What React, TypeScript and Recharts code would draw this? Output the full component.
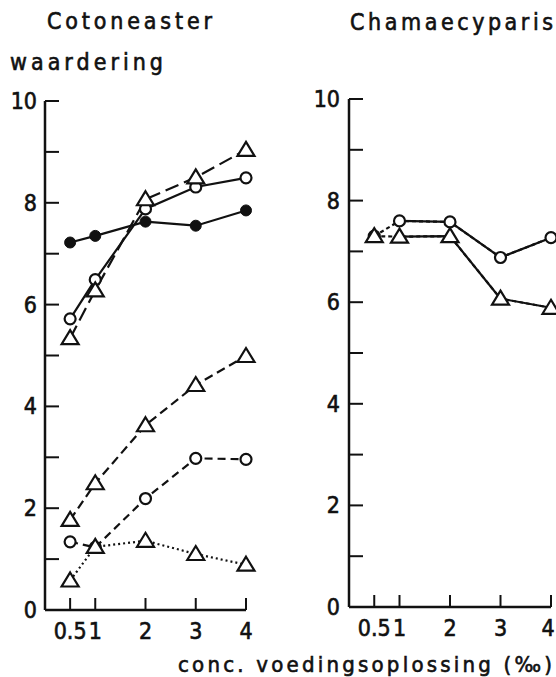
import { LineChart, Line, XAxis, YAxis } from 'recharts';

// Concentration of the nutrient solution (per mille)
const concentrations = [0.5, 1, 2, 3, 4];
const xTicks = [0.5, 1, 2, 3, 4];
const yTicks = [0, 1, 2, 3, 4, 5, 6, 7, 8, 9, 10];

// Cotoneaster ratings
const cotFilled = [7.22, 7.35, 7.63, 7.55, 7.85];
const cotCircleHigh = [5.72, 6.49, 7.88, 8.31, 8.49];
const cotTriangleHigh = [5.34, 6.28, 8.07, 8.5, 9.04];
const cotTriangleMid = [1.77, 2.49, 3.63, 4.42, 4.99];
const cotCircleLow = [1.34, 1.23, 2.19, 2.98, 2.96];
const cotTriangleLow = [0.58, 1.24, 1.36, 1.1, 0.89];

// Chamaecyparis ratings
const chaCircle = [7.3, 7.6, 7.58, 6.88, 7.27];
const chaTriangle = [7.3, 7.29, 7.3, 6.07, 5.89];

const FONT = "'Liberation Sans Narrow', 'DejaVu Sans Condensed', 'DejaVu Sans', sans-serif";
const INK = '#111';

const cotData = concentrations.map((x, i) => ({
  x,
  filled: cotFilled[i],
  circleHigh: cotCircleHigh[i],
  triangleHigh: cotTriangleHigh[i],
  triangleMid: cotTriangleMid[i],
  circleLow: cotCircleLow[i],
  triangleLow: cotTriangleLow[i],
}));

// first segment (0.5 -> 1) is dashed, the rest solid
const chaData = concentrations.map((x, i) => ({
  x,
  circle: chaCircle[i],
  triangle: chaTriangle[i],
  circleSolid: i === 0 ? null : chaCircle[i],
  triangleSolid: i === 0 ? null : chaTriangle[i],
}));

const renderTriangle = (props: any) => {
  const { cx, cy, index } = props;
  if (cx == null || cy == null) return <g key={`t-${index}`} />;
  return (
    <path
      key={`t-${index}`}
      d={`M${cx},${cy - 8} L${cx + 8.5},${cy + 6} L${cx - 8.5},${cy + 6} Z`}
      fill="#fff"
      stroke={INK}
      strokeWidth={2.2}
      strokeLinejoin="miter"
    />
  );
};

const openCircle = { r: 5.5, fill: '#fff', stroke: INK, strokeWidth: 2.2, strokeDasharray: 'none' };
const filledCircle = { r: 5.5, fill: INK, stroke: INK, strokeWidth: 1, strokeDasharray: 'none' };

// text is slightly thickened with a thin outline
const textStyle = { fontFamily: FONT, fill: INK, stroke: INK, strokeWidth: 0.6 };

const YTick = ({ x, y, payload, labelGap }: any) => (
  <g>
    <line x1={x} y1={y} x2={x + 14} y2={y} stroke={INK} strokeWidth={2} />
    {payload.value % 2 === 0 && (
      <text x={x - labelGap} y={y} dy={8} textAnchor="end" fontSize={23} {...textStyle}>
        {payload.value}
      </text>
    )}
  </g>
);

// maxX keeps the last label inside the visible area
const XTick = ({ x, y, payload, maxX }: any) => (
  <g>
    <line x1={x} y1={y} x2={x} y2={y - 12} stroke={INK} strokeWidth={2} />
    <text
      x={Math.min(x, maxX)}
      y={y + 29}
      textAnchor="middle"
      fontSize={23}
      {...textStyle}
    >
      {payload.value}
    </text>
  </g>
);

function Axes({ labelGap, maxX }: { labelGap: number; maxX: number }) {
  return [
    <XAxis
      key="x"
      type="number"
      dataKey="x"
      domain={[0, 4]}
      ticks={xTicks}
      height={1}
      tickSize={0}
      tickMargin={0}
      tickLine={false}
      axisLine={{ stroke: INK, strokeWidth: 2.5 }}
      tick={<XTick maxX={maxX} />}
      interval={0}
    />,
    <YAxis
      key="y"
      type="number"
      domain={[0, 10]}
      ticks={yTicks}
      width={1}
      tickSize={0}
      tickMargin={0}
      tickLine={false}
      axisLine={{ stroke: INK, strokeWidth: 2.5 }}
      tick={<YTick labelGap={labelGap} />}
      interval={0}
    />,
  ];
}

export default function App() {
  return (
    <div
      style={{
        position: 'absolute',
        left: 0,
        top: 0,
        width: 556,
        height: 677,
        overflow: 'hidden',
        background: '#fff',
      }}
    >
      <div style={{ position: 'absolute', left: 0, top: 0 }}>
        <LineChart
          width={300}
          height={677}
          data={cotData}
          margin={{ top: 101, right: 54, bottom: 66, left: 44 }}
        >
          {Axes({ labelGap: 8, maxX: 1000 })}
          <Line
            dataKey="filled"
            stroke={INK}
            strokeWidth={2.2}
            dot={filledCircle}
            isAnimationActive={false}
          />
          <Line
            dataKey="circleHigh"
            stroke={INK}
            strokeWidth={2.2}
            dot={openCircle}
            isAnimationActive={false}
          />
          <Line
            dataKey="triangleHigh"
            stroke={INK}
            strokeWidth={2.2}
            strokeDasharray="14 6"
            dot={renderTriangle}
            isAnimationActive={false}
          />
          <Line
            dataKey="triangleMid"
            stroke={INK}
            strokeWidth={2.2}
            strokeDasharray="9 5"
            dot={renderTriangle}
            isAnimationActive={false}
          />
          <Line
            dataKey="circleLow"
            stroke={INK}
            strokeWidth={2.2}
            strokeDasharray="8 5"
            dot={openCircle}
            isAnimationActive={false}
          />
          <Line
            dataKey="triangleLow"
            stroke={INK}
            strokeWidth={2.2}
            strokeDasharray="2 3"
            dot={renderTriangle}
            isAnimationActive={false}
          />
        </LineChart>
      </div>

      <div style={{ position: 'absolute', left: 280, top: 0 }}>
        <LineChart
          width={300}
          height={677}
          data={chaData}
          margin={{ top: 99, right: 29, bottom: 69, left: 68 }}
        >
          {Axes({ labelGap: 9, maxX: 268 })}
          <Line
            dataKey="circleSolid"
            stroke={INK}
            strokeWidth={2.2}
            dot={false}
            isAnimationActive={false}
          />
          <Line
            dataKey="triangleSolid"
            stroke={INK}
            strokeWidth={2.2}
            dot={false}
            isAnimationActive={false}
          />
          <Line
            dataKey="circle"
            stroke={INK}
            strokeWidth={2.2}
            strokeDasharray="4 3"
            dot={openCircle}
            isAnimationActive={false}
          />
          <Line
            dataKey="triangle"
            stroke={INK}
            strokeWidth={2.2}
            strokeDasharray="4 3"
            dot={renderTriangle}
            isAnimationActive={false}
          />
        </LineChart>
      </div>

      {/* titles and axis captions */}
      <svg
        width={556}
        height={677}
        style={{ position: 'absolute', left: 0, top: 0, pointerEvents: 'none' }}
      >
        <g fontSize={23} {...textStyle}>
          <text x={47} y={29} textLength={165} lengthAdjust="spacing">
            Cotoneaster
          </text>
          <text x={350} y={30} textLength={203} lengthAdjust="spacing">
            Chamaecyparis
          </text>
          <text x={10} y={70} textLength={153} lengthAdjust="spacing">
            waardering
          </text>
          <text x={178} y={672} fontSize={22} textLength={374} lengthAdjust="spacing">
            conc. voedingsoplossing (‰)
          </text>
        </g>
      </svg>
    </div>
  );
}
